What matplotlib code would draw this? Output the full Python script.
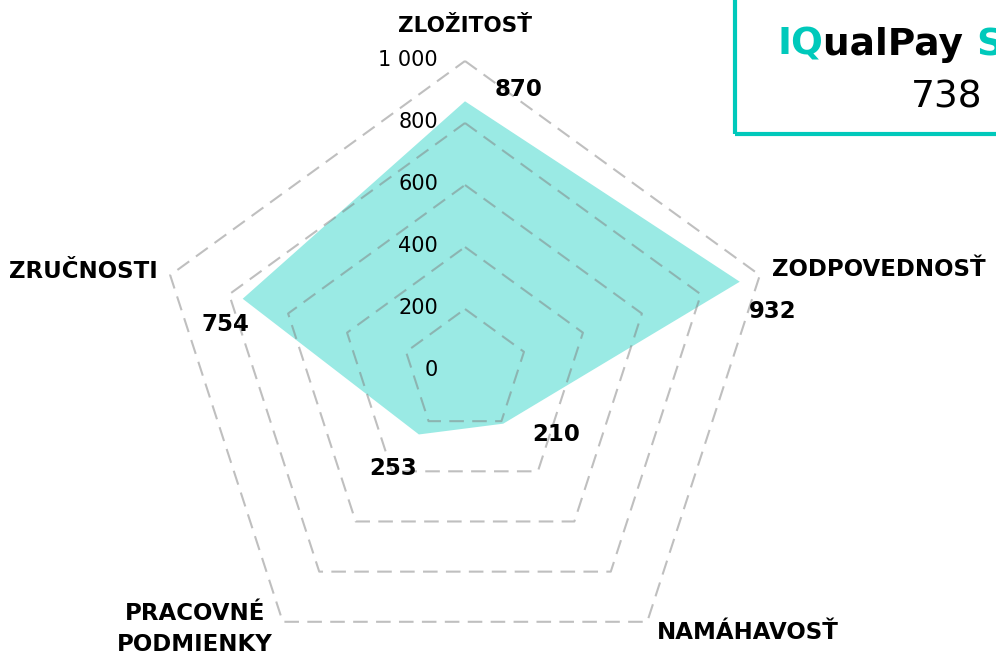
import matplotlib.pyplot as plt
import numpy as np

# data
categories = ['ZLOŽITOSŤ', 'ZODPOVEDNOSŤ', 'NAMÁHAVOSŤ', 'PRACOVNÉ\nPODMIENKY', 'ZRUČNOSTI']
values = [870, 932, 210, 253, 754]
ring_ticks = [0, 200, 400, 600, 800, 1000]
ring_labels = ['0', '200', '400', '600', '800', '1 000']
title_parts = [('IQ', '#00C9BB'), ('ualPay ', 'black'), ('S', '#00C9BB')]
score = '738'

teal = '#00C9BB'
fill_col = '#9AEAE4'
plt.rcParams['font.family'] = ['DejaVu Sans']

W, H = 996, 659
fig = plt.figure(figsize=(W / 100, H / 100), dpi=100)

# polar axes placed so centre sits at (465, 371) px, radius 310 px
cx, cy, R = 465, 371, 310
ax = fig.add_axes([(cx - R) / W, (H - cy - R) / H, 2 * R / W, 2 * R / H], projection='polar')
ax.set_theta_zero_location('N')
ax.set_theta_direction(-1)
ax.set_ylim(0, 1000)
ax.set_axis_off()

theta = np.deg2rad(np.arange(len(categories)) * 360 / len(categories))
theta_c = np.append(theta, theta[0])

ax.fill(theta, values, color=fill_col, zorder=1, lw=0)

for r in ring_ticks[1:]:
    ax.plot(theta_c, [r] * len(theta_c), color='#808080', alpha=0.5, lw=1.5,
            ls=(0, (7, 4)), zorder=2, clip_on=False)

for r, lab in zip(ring_ticks, ring_labels):
    ax.annotate(lab, xy=(0, r), xytext=(-27, 1), textcoords='offset pixels',
                ha='right', va='center', fontsize=15, color='black', annotation_clip=False)

# value labels (offsets in pixels from the data point)
val_offsets = [(54, 12), (33, -30), (53, -11), (-26, -34), (-17, -26)]
for t, v, off in zip(theta, values, val_offsets):
    ax.annotate(str(v), xy=(t, v), xytext=off, textcoords='offset pixels',
                ha='center', va='center', fontsize=16.5, fontweight='bold',
                annotation_clip=False)

# category labels
cat_pos = [((0, 1000), (0, 35), 'center', 'center'),
           ((theta[1], 1000), (12, 6), 'left', 'center'),
           ((theta[2], 1000), (10, -11), 'left', 'center'),
           ((theta[3], 1000), (-88, -7), 'center', 'center'),
           ((theta[4], 1000), (-12, 4), 'right', 'center')]
cat_sizes = [15.5, 16.5, 16.5, 16.5, 16.5]
for lab, (xy, off, ha, va), fs in zip(categories, cat_pos, cat_sizes):
    ax.annotate(lab, xy=xy, xytext=off, textcoords='offset pixels', ha=ha, va=va,
                fontsize=fs, fontweight='bold', linespacing=1.45,
                annotation_clip=False)

# score box in the top right corner
box = plt.Rectangle((735 / W, 1 - 134 / H), 1, 1, transform=fig.transFigure,
                    fill=False, edgecolor=teal, lw=3, clip_on=False)
fig.add_artist(box)

prev = fig.text(777 / W, 1 - 55 / H, title_parts[0][0], color=title_parts[0][1],
                fontsize=27, fontweight='bold', ha='left', va='baseline')
for txt, col in title_parts[1:]:
    prev = fig.add_artist(plt.Annotation(txt, xy=(1, 0), xycoords=prev, va='bottom',
                                         ha='left', color=col, fontsize=27,
                                         fontweight='bold'))

fig.text(982 / W, 1 - 108 / H, score, fontsize=27, ha='right', va='baseline')

fig.savefig('out.png', dpi=100)
